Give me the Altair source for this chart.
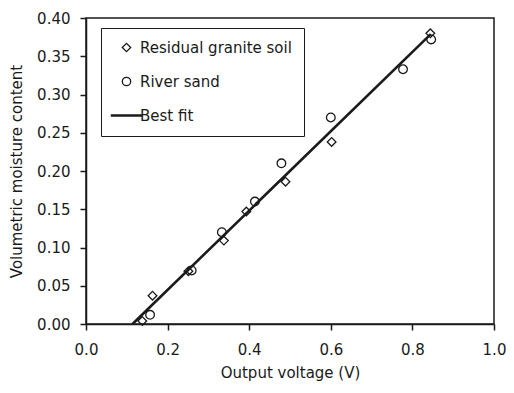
import altair as alt
import pandas as pd

# Residual granite soil (diamonds)
soil_v = [0.138, 0.163, 0.251, 0.338, 0.393, 0.489, 0.602, 0.844]
soil_m = [0.004, 0.037, 0.069, 0.109, 0.147, 0.186, 0.238, 0.380]
# River sand (circles)
sand_v = [0.157, 0.259, 0.333, 0.414, 0.479, 0.600, 0.777, 0.846]
sand_m = [0.012, 0.070, 0.120, 0.160, 0.210, 0.270, 0.333, 0.372]
# Best fit line end points
fit_v = [0.114, 0.845]
fit_m = [0.000, 0.379]

series = ["Residual granite soil", "River sand", "Best fit"]
x_ticks = [0, 0.2, 0.4, 0.6, 0.8, 1.0]
y_ticks = [0, 0.05, 0.1, 0.15, 0.2, 0.25, 0.3, 0.35, 0.4]

pts = pd.DataFrame({
    "v": soil_v + sand_v,
    "m": soil_m + sand_m,
    "series": [series[0]] * len(soil_v) + [series[1]] * len(sand_v),
})
fit = pd.DataFrame({"v": fit_v, "m": fit_m})

FONT = "DejaVu Sans"
INK = "#1a1a1a"
LINE_SYMBOL = "M-3.6,-0.15L3.6,-0.15L3.6,0.15L-3.6,0.15Z"

xscale = alt.Scale(domain=[0, 1.0], nice=False)
yscale = alt.Scale(domain=[0, 0.40], nice=False)

xaxis = alt.Axis(title="Output voltage (V)", values=x_ticks,
                 format=".1f", grid=False, tickSize=6, labelPadding=12,
                 titlePadding=8, labelFlush=False, labelOverlap=False)
yaxis = alt.Axis(title="Volumetric moisture content", values=y_ticks,
                 format=".2f", grid=False, tickSize=6, labelPadding=10,
                 titlePadding=12, labelFlush=False, labelOverlap=False)

legend = alt.Legend(title=None, orient="none", legendX=15, legendY=10,
                    padding=12, rowPadding=18, labelOffset=6, symbolOffset=6,
                    symbolSize=70, symbolStrokeWidth=1.3,
                    strokeColor=INK, fillColor="white",
                    symbolStrokeColor=INK, symbolFillColor="white",
                    labelFontSize=15, labelFont=FONT, labelColor=INK,
                    labelLimit=300)

line = alt.Chart(fit).mark_line(color=INK, strokeWidth=2.6).encode(
    x=alt.X("v:Q", scale=xscale, axis=xaxis),
    y=alt.Y("m:Q", scale=yscale, axis=yaxis),
)

points = alt.Chart(pts).mark_point(filled=False, color=INK, opacity=1,
                                   size=75, strokeWidth=1.3).encode(
    x=alt.X("v:Q", scale=xscale, axis=xaxis),
    y=alt.Y("m:Q", scale=yscale, axis=yaxis),
    shape=alt.Shape("series:N",
                    scale=alt.Scale(domain=series, range=["diamond", "circle", LINE_SYMBOL]),
                    legend=legend),
)

chart = alt.layer(line, points).properties(
    width=408, height=306,
    autosize=alt.AutoSizeParams(type="none"),
    padding={"left": 78, "top": 10, "right": 12, "bottom": 57},
).configure_view(
    stroke=INK, strokeWidth=1.5
).configure_axis(
    labelFont=FONT, labelFontSize=15, labelColor=INK,
    titleFont=FONT, titleFontSize=15, titleFontWeight="normal", titleColor=INK,
    domainColor=INK, domainWidth=1.5, tickColor=INK, tickWidth=1.5,
)

chart.save("out.html", embed_options={"renderer": "svg", "actions": False})
